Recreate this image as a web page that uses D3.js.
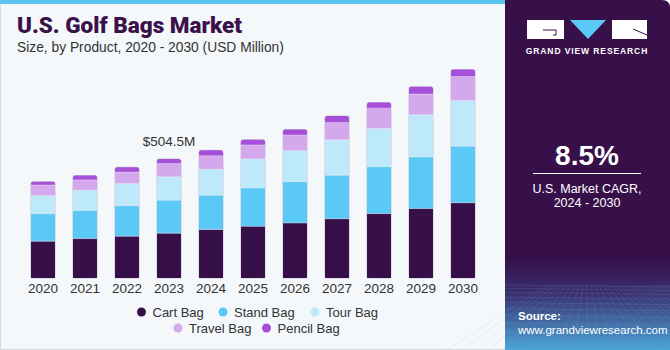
<!DOCTYPE html>
<html>
<head>
<meta charset="utf-8">
<script src="https://cdn.jsdelivr.net/npm/d3@7"></script>
<style>
  body { margin: 0; background: #fff; }
  svg { display: block; font-family: "Liberation Sans", Arial, sans-serif; }
</style>
</head>
<body>
<div id="chart"></div>
<script>
const years = ["2020", "2021", "2022", "2023", "2024", "2025", "2026", "2027", "2028", "2029", "2030"];
const products = ["Cart Bag", "Stand Bag", "Tour Bag", "Travel Bag", "Pencil Bag"];
const cartBag   = [156, 167, 177, 190, 206, 219, 233, 251, 273, 295, 319];
const standBag  = [116, 119, 129, 140, 145, 163, 175, 185, 199, 218, 240];
const tourBag   = [78, 86, 95, 99, 110, 123, 133, 150, 162, 179, 193];
const travelBag = [44, 44, 48, 56, 57, 59, 65, 73, 86, 88, 102];
const pencilBag = [14, 19, 20, 19.5, 24, 22, 24, 28, 24, 31, 30];
const colors = ["#37104a", "#5bc9f5", "#bde9fa", "#d4a8ec", "#a64fd8"];
const callout = { year: "2023", label: "$504.5M" };
const cagr = "8.5%";

const W = 670, H = 350;
const svg = d3.select("#chart").append("svg")
    .attr("width", W)
    .attr("height", H);

// chart panel background
svg.append("rect")
    .attr("x", 0.5).attr("y", 0.5)
    .attr("width", 510).attr("height", H - 1)
    .attr("fill", "#f4f8fb")
    .attr("stroke", "#d5dbe0");
svg.append("rect")
    .attr("x", 0).attr("y", 0)
    .attr("width", 510).attr("height", 4)
    .attr("fill", "#5bc4ef");

svg.append("text")
    .attr("x", 17).attr("y", 33)
    .attr("fill", "#3b1149")
    .style("font-family", "Roboto, 'Liberation Sans', sans-serif")
    .style("font-weight", 900)
    .style("font-size", "22.5px")
    .text("U.S. Golf Bags Market");

svg.append("text")
    .attr("x", 17).attr("y", 52)
    .attr("fill", "#333")
    .style("font-size", "13.8px")
    .text("Size, by Product, 2020 - 2030 (USD Million)");

// data table for stack
const table = years.map((y, i) => ({
    year: y,
    "Cart Bag": cartBag[i],
    "Stand Bag": standBag[i],
    "Tour Bag": tourBag[i],
    "Travel Bag": travelBag[i],
    "Pencil Bag": pencilBag[i]
}));

const series = d3.stack().keys(products)(table);

const x = d3.scaleBand()
    .domain(years)
    .range([22, 484])
    .paddingInner(0.4286)
    .paddingOuter(0.214);

const y = d3.scaleLinear()
    .domain([0, 1000])
    .range([278, 278 - 1000 / 4.2395]);

const color = d3.scaleOrdinal().domain(products).range(colors);

const g = svg.append("g");

// faint outline behind each bar
g.selectAll(".shadow")
    .data(table)
    .join("rect")
    .attr("class", "shadow")
    .attr("x", d => x(d.year) - 0.5)
    .attr("y", d => y(d3.sum(products, k => d[k])) - 0.5)
    .attr("width", x.bandwidth() + 1)
    .attr("height", d => y(0) - y(d3.sum(products, k => d[k])) + 1)
    .attr("rx", 2.5)
    .attr("fill", "#c9c3d2");

g.selectAll(".layer")
    .data(series)
    .join("g")
    .attr("class", "layer")
    .attr("fill", d => color(d.key))
    .selectAll("path")
    .data(d => d.map(v => Object.assign(v, { top: d.key === "Pencil Bag" })))
    .join("path")
    .attr("d", d => {
        const x0 = x(d.data.year), w = x.bandwidth();
        const y0 = y(d[0]), y1 = y(d[1]);
        const r = d.top ? 2.5 : 0;
        return `M${x0},${y0}V${y1 + r}Q${x0},${y1} ${x0 + r},${y1}H${x0 + w - r}Q${x0 + w},${y1} ${x0 + w},${y1 + r}V${y0}Z`;
    });

// thin separators between segments
g.selectAll(".sep")
    .data(series.slice(0, -1).flat())
    .join("line")
    .attr("class", "sep")
    .attr("x1", d => x(d.data.year))
    .attr("x2", d => x(d.data.year) + x.bandwidth())
    .attr("y1", d => y(d[1]))
    .attr("y2", d => y(d[1]))
    .attr("stroke", "#ffffff")
    .attr("stroke-opacity", 0.35)
    .attr("stroke-width", 1);

const axis = svg.append("g")
    .attr("transform", "translate(0,278)")
    .call(d3.axisBottom(x).tickSize(0).tickPadding(5));
axis.select(".domain").remove();
axis.selectAll("text")
    .attr("fill", "#333")
    .style("font-size", "13.5px")
    .style("font-family", "'Liberation Sans', Arial, sans-serif");

const ci = years.indexOf(callout.year);
const ctotal = d3.sum(series, s => s[ci][1] - s[ci][0]);
svg.append("text")
    .attr("x", x(callout.year) + x.bandwidth() / 2)
    .attr("y", y(ctotal) - 13)
    .attr("text-anchor", "middle")
    .attr("fill", "#333")
    .style("font-size", "13.5px")
    .text(callout.label);

// legend
const legendPos = [[141.5, 312], [223, 312], [315, 312], [178, 328], [266.5, 328]];
const legend = svg.append("g");
products.forEach((p, i) => {
    const item = legend.append("g")
        .attr("transform", `translate(${legendPos[i][0]},${legendPos[i][1]})`);
    item.append("circle")
        .attr("r", 4.5)
        .attr("fill", color(p));
    item.append("text")
        .attr("x", 11)
        .attr("y", 4.5)
        .attr("fill", "#333")
        .style("font-size", "13px")
        .text(p);
});

// right panel
const defs = svg.append("defs");
const grad = defs.append("linearGradient")
    .attr("id", "panelGrad")
    .attr("x1", 0).attr("y1", 0).attr("x2", 0).attr("y2", 1);
grad.append("stop").attr("offset", "0%").attr("stop-color", "#37104a");
grad.append("stop").attr("offset", "74%").attr("stop-color", "#37104a");
grad.append("stop").attr("offset", "84%").attr("stop-color", "#3a3070");
grad.append("stop").attr("offset", "100%").attr("stop-color", "#4aa6d8");

const panel = svg.append("g");
panel.append("path")
    .attr("d", `M505,0H662Q670,0 670,8V${H}H505Z`)
    .attr("fill", "url(#panelGrad)");

// perspective grid at bottom of panel
const grid = panel.append("g")
    .attr("stroke", "#8fb6e0")
    .attr("stroke-opacity", 0.25)
    .attr("stroke-width", 0.6);
d3.range(0, 14).forEach(i => {
    const yy = 285 + i * i * 0.35 + i * 3;
    grid.append("line").attr("x1", 505).attr("x2", 670).attr("y1", yy).attr("y2", yy + 2);
});
d3.range(-10, 22).forEach(i => {
    grid.append("line")
        .attr("x1", 587 + i * 4).attr("y1", 285)
        .attr("x2", 587 + i * 14).attr("y2", H);
});

// logo
const logo = panel.append("g");
logo.append("rect").attr("x", 527).attr("y", 20).attr("width", 37).attr("height", 19).attr("fill", "#fff");
logo.append("path").attr("d", "M543,30H556V35H553").attr("fill", "none").attr("stroke", "#37104a").attr("stroke-width", 1);
logo.append("path").attr("d", "M570,20H606L588,39Z").attr("fill", "#5bc9f5");
logo.append("rect").attr("x", 612).attr("y", 20).attr("width", 35).attr("height", 19).attr("fill", "#fff");
logo.append("path").attr("d", "M633,29L647,35").attr("stroke", "#37104a").attr("stroke-width", 1);
panel.append("text")
    .attr("x", 587).attr("y", 54)
    .attr("text-anchor", "middle")
    .attr("fill", "#fff")
    .style("font-size", "8.5px")
    .style("font-weight", 700)
    .style("letter-spacing", "0.9px")
    .text("GRAND VIEW RESEARCH");

panel.append("text")
    .attr("x", 587).attr("y", 165)
    .attr("text-anchor", "middle")
    .attr("fill", "#fff")
    .style("font-size", "28px")
    .style("font-weight", 700)
    .text(cagr);
panel.append("line")
    .attr("x1", 533).attr("x2", 641)
    .attr("y1", 173.5).attr("y2", 173.5)
    .attr("stroke", "#fff")
    .attr("stroke-width", 1);
panel.append("text")
    .attr("x", 587).attr("y", 193)
    .attr("text-anchor", "middle")
    .attr("fill", "#fff")
    .style("font-size", "12.5px")
    .text("U.S. Market CAGR,");
panel.append("text")
    .attr("x", 587).attr("y", 207)
    .attr("text-anchor", "middle")
    .attr("fill", "#fff")
    .style("font-size", "12.5px")
    .text("2024 - 2030");

panel.append("text")
    .attr("x", 518).attr("y", 320)
    .attr("fill", "#fff")
    .style("font-size", "11.5px")
    .style("font-weight", 700)
    .text("Source:");
panel.append("text")
    .attr("x", 518).attr("y", 334)
    .attr("fill", "#fff")
    .style("font-size", "11.5px")
    .text("www.grandviewresearch.com");
</script>
</body>
</html>
